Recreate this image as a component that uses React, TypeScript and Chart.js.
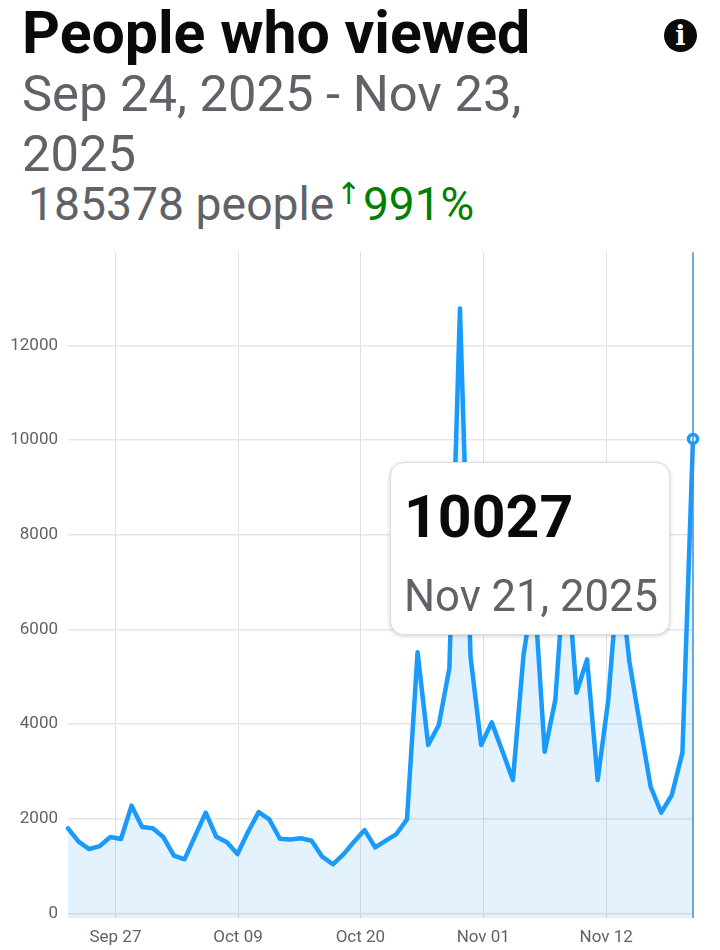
import React, { useEffect, useRef } from "react";
import { Chart, registerables } from "chart.js";

Chart.register(...registerables);

const dayIndex = [
  0, 1, 2, 3, 4, 5, 6, 7, 8, 9, 10, 11, 12, 13, 14, 15, 16, 17, 18, 19,
  20, 21, 22, 23, 24, 25, 26, 27, 28, 29, 30, 31, 32, 33, 34, 35, 36, 37, 38, 39,
  40, 41, 42, 43, 44, 45, 46, 47, 48, 49, 50, 51, 52, 53, 54, 55, 56, 57, 58, 59,
];
const viewers = [
  1800, 1517, 1362, 1425, 1615, 1573, 2278, 1827, 1800, 1615,
  1221, 1145, 1640, 2130, 1622, 1504, 1257, 1728, 2143, 1990,
  1580, 1565, 1590, 1537, 1200, 1040, 1250, 1517, 1763, 1398,
  1538, 1679, 1989, 5517, 3559, 3981, 5178, 12780, 5424, 3559,
  4038, 3432, 2820, 5460, 6900, 3417, 4509, 7635, 4663, 5368,
  2820, 4509, 7300, 5318, 3981, 2678, 2130, 2503, 3396, 10027,
];
const xTickPositions = [4.48, 16.05, 27.6, 39.2, 50.8];
const xTickLabels = ["Sep 27", "Oct 09", "Oct 20", "Nov 01", "Nov 12"];
const yTickValues = [0, 2000, 4000, 6000, 8000, 10000, 12000];

const title = "People who viewed";
const dateRange = ["Sep 24, 2025 - Nov 23,", "2025"];
const peopleText = "185378 people";
const changeText = "991%";
const tooltipValue = "10027";
const tooltipDate = "Nov 21, 2025";

const FONT = "Roboto, sans-serif";
const GREY = "#5f6368";
const BLUE = "#1a9bfc";

const crosshair = {
  id: "crosshair",
  afterDatasetsDraw(chart: any) {
    const { ctx, chartArea, scales } = chart;
    const x = scales.x.getPixelForValue(dayIndex[dayIndex.length - 1]);
    ctx.save();
    ctx.strokeStyle = "#3d8fd9";
    ctx.lineWidth = 1.5;
    ctx.beginPath();
    ctx.moveTo(x, chartArea.top);
    ctx.lineTo(x, chartArea.bottom);
    ctx.stroke();
    ctx.restore();
  },
};

const abs = (left: number, top: number, extra: React.CSSProperties = {}): React.CSSProperties => ({
  position: "absolute",
  left,
  top,
  whiteSpace: "nowrap",
  fontFamily: FONT,
  ...extra,
});

export default function App() {
  const ref = useRef<HTMLCanvasElement | null>(null);

  useEffect(() => {
    const last = viewers.length - 1;
    const chart = new Chart(ref.current as HTMLCanvasElement, {
      type: "line",
      data: {
        datasets: [
          {
            data: dayIndex.map((d, i) => ({ x: d, y: viewers[i] })),
            borderColor: BLUE,
            borderWidth: 4.5,
            backgroundColor: "rgba(33,150,243,0.125)",
            fill: "start",
            tension: 0,
            clip: false,
            borderCapStyle: "round",
            borderJoinStyle: "round",
            pointRadius: (c: any) => (c.dataIndex === last ? 4.5 : 0),
            pointBorderWidth: 3.5,
            pointBorderColor: BLUE,
            pointBackgroundColor: "#ffffff",
          } as any,
        ],
      },
      options: {
        animation: false,
        responsive: false,
        layout: { padding: { left: 0, right: 27, top: 4, bottom: 0 } },
        plugins: { legend: { display: false }, tooltip: { enabled: false } },
        scales: {
          x: {
            type: "linear",
            min: dayIndex[0],
            max: dayIndex[last],
            afterBuildTicks: (s: any) => {
              s.ticks = xTickPositions.map((v) => ({ value: v }));
            },
            afterFit: (s: any) => {
              s.height = 32;
            },
            grid: { color: "#dfe1e5", lineWidth: 1, drawTicks: false },
            border: { display: false },
            ticks: {
              autoSkip: false,
              maxRotation: 0,
              padding: 10,
              color: "#5f6368",
              font: { family: "Roboto", size: 17 },
              callback: (v: any) => xTickLabels[xTickPositions.indexOf(Number(v))] ?? "",
            },
          },
          y: {
            type: "linear",
            min: -95,
            max: 13971,
            afterBuildTicks: (s: any) => {
              s.ticks = yTickValues.map((v) => ({ value: v }));
            },
            afterFit: (s: any) => {
              s.width = 68;
            },
            grid: { color: "#e6e6e6", lineWidth: 1.5, drawTicks: false },
            border: { display: false },
            ticks: {
              padding: 10,
              color: "#5f6368",
              font: { family: "Roboto", size: 17 },
              callback: (v: any) => String(v),
            },
          },
        },
      },
      plugins: [crosshair],
    } as any);
    return () => chart.destroy();
  }, []);

  return (
    <div style={{ position: "absolute", left: 0, top: 0, width: 720, height: 950, background: "#fff", overflow: "hidden" }}>
      <div style={abs(22, -1, { fontSize: 59, lineHeight: "68px", fontWeight: 700, color: "#0a0a0a" })}>{title}</div>
      <div
        style={abs(664, 19, {
          width: 33,
          height: 33,
          borderRadius: "50%",
          background: "#0a0a0a",
          color: "#fff",
          textAlign: "center",
          fontSize: 27,
          lineHeight: "33px",
          fontWeight: 900,
          fontFamily: "'DejaVu Serif', serif",
        })}
      >
        i
      </div>
      <div style={abs(22, 64, { fontSize: 50.7, lineHeight: "60px", color: GREY })}>
        {dateRange[0]}
        <br />
        {dateRange[1]}
      </div>
      <div style={abs(28, 174, { fontSize: 46.3, lineHeight: "60px", color: GREY })}>{peopleText}</div>
      <div style={abs(336, 174, { fontSize: 30, lineHeight: "40px", color: "green", fontFamily: "'DejaVu Sans', sans-serif" })}>↑</div>
      <div style={abs(363, 174, { fontSize: 46, lineHeight: "60px", color: "green" })}>{changeText}</div>
      <canvas ref={ref} width={720} height={718} style={{ position: "absolute", left: 0, top: 232, width: 720, height: 718 }} />
      <div
        style={{
          position: "absolute",
          left: 390,
          top: 462,
          width: 280,
          height: 173,
          boxSizing: "border-box",
          background: "#fff",
          borderRadius: 14,
          border: "1px solid #dedede",
          boxShadow: "0 1px 4px rgba(0,0,0,0.2)",
        }}
      >
        <div style={abs(13, 18, { fontSize: 59, lineHeight: "72px", fontWeight: 700, color: "#0a0a0a" })}>{tooltipValue}</div>
        <div style={abs(13, 106, { fontSize: 43.6, lineHeight: "56px", color: GREY })}>{tooltipDate}</div>
      </div>
    </div>
  );
}
